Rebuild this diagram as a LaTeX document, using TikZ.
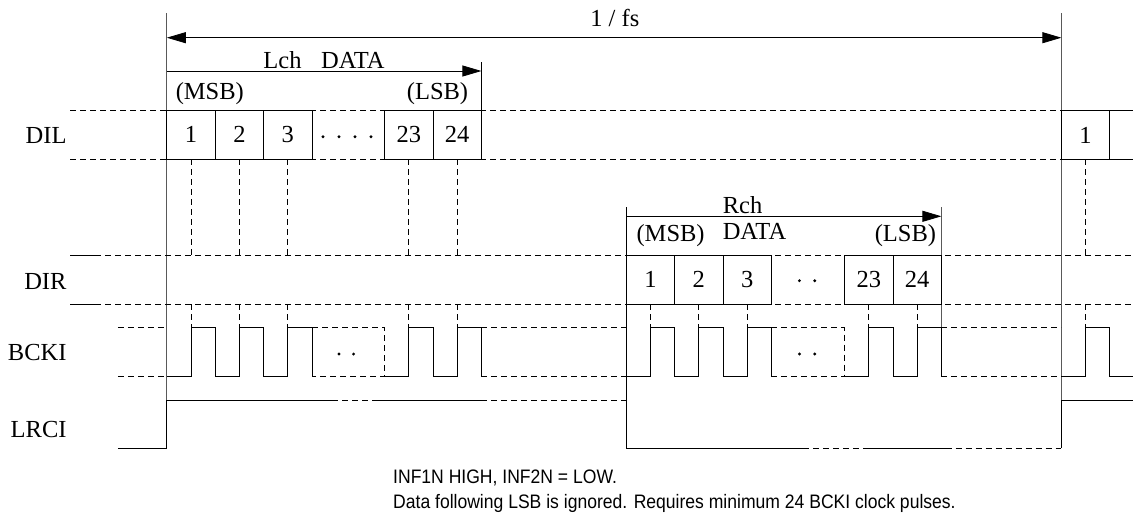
\documentclass[tikz,border=0pt]{standalone}
\usepackage{fontspec}
\usepackage{graphicx}
\setmainfont{Liberation Serif}
\newfontfamily\notefont{Liberation Sans}
\usetikzlibrary{arrows.meta}

\begin{document}
\begin{tikzpicture}[x=1pt,y=-1pt,
        sig/.style={line width=0.9pt},
        grid/.style={line width=0.8pt, dash pattern=on 6pt off 4pt},
        frame/.style={line width=0.9pt, black!65},
        span/.style={line width=0.8pt, -{Triangle[length=19pt,width=11pt]}},
        both span/.style={line width=0.8pt, {Triangle[length=19pt,width=11pt]}-{Triangle[length=19pt,width=11pt]}},
        lbl/.style={font=\fontsize{24.5}{28}\selectfont, inner sep=0pt},
        note/.style={anchor=west, inner sep=0pt, font=\notefont\fontsize{19.5}{22}\selectfont}]
    \useasboundingbox (0,0) rectangle (1133,520);

    % labels
    \node[lbl, anchor=east] (dil) at (66.7,135) {DIL};
    \node[lbl, anchor=east] (dir) at (66.7,281) {DIR};
    \node[lbl, anchor=east] (bcki) at (66.7,353) {BCKI};
    \node[lbl, anchor=east] (lrci) at (66.7,430) {LRCI};

    % frame lines
    \draw[frame] (166.8,13.3) -- (166.8,448);
    \draw[frame] (1061.4,13.3) -- (1061.4,448);
    \draw[sig] (626.2,207.3) -- (626.2,448);
    \draw[sig] (481.4,62) -- (481.4,110.7);
    \draw[frame] (941.4,207.3) -- (941.4,327.7);

    \coordinate (fsL) at (166.8,37.7);
    \coordinate (fsR) at (1061.4,37.7);
    \coordinate (lchL) at (166.8,71);
    \coordinate (lchR) at (481.4,71);
    \coordinate (rchL) at (626.2,216.3);
    \coordinate (rchR) at (941.4,216.3);
    \draw[both span] (fsL) -- (fsR);
    \draw[span] (lchL) -- (lchR);
    \draw[span] (rchL) -- (rchR);
    \node[lbl] (fs) at (614.8,18.3) {1 / fs};
    \node[lbl] (lch) at (324,60) {Lch\hspace{0.8em}DATA};
    \node[lbl, anchor=west] (rch) at (722.6,205) {Rch};
    \node[lbl, anchor=west] (rdata) at (722.6,231.7) {DATA};
    \node[lbl] (lmsb) at (209.8,93.3) {(MSB)};
    \node[lbl] (llsb) at (437.5,93.3) {(LSB)};
    \node[lbl] (rmsb) at (670.6,236) {(MSB)};
    \node[lbl] (rlsb) at (905.4,236) {(LSB)};

    % data rows
    \draw[grid] (70,110.7) -- (1061.4,110.7);
    \draw[grid] (70,159) -- (1061.4,159);
    \draw[sig] (70,255.7) -- (95,255.7);
    \draw[sig] (70,304) -- (95,304);
    \draw[grid] (95,255.7) -- (1133,255.7);
    \draw[grid] (95,304) -- (1133,304);
    \foreach \x/\n in {166.8/1, 215.2/2, 263.6/3, 384.6/23, 433/24}{
        \draw[sig] (\x,110.7) rectangle ++(48.4,48.3) node[lbl, midway] (l\n) {\n};
    }
    \foreach \x/\n in {626.2/1, 674.6/2, 723/3, 844.6/23, 893/24}{
        \draw[sig] (\x,255.7) rectangle ++(48.4,48.3) node[lbl, midway] (r\n) {\n};
    }
    \draw[sig] (1133,110.7) -- (1061.4,110.7) -- (1061.4,159) -- (1133,159);
    \draw[sig] (1109.8,110.7) -- (1109.8,159);
    \node[lbl] (n1) at (1085.6,135) {1};

    % sampling marks
    \foreach \x in {191,239.4,287.8,408.8,457.2,1085.6}{
        \draw[grid, line width=0.7pt] (\x,159) -- (\x,255.7);
        \draw[grid, line width=0.7pt] (\x,304) -- (\x,327.7);
    }
    \foreach \x in {650.4,698.8,747.2,868.8,917.2}
        \draw[grid, line width=0.7pt] (\x,304) -- (\x,327.7);

    % BCKI
    \draw[grid] (117.9,327.7) -- (166.8,327.7);
    \draw[grid] (117.9,376.5) -- (166.8,376.5);
    \foreach \x in {191,239.4,287.8,408.8,457.2,650.4,698.8,747.2,868.8,917.2,1085.6}
        \draw[sig] (\x-24.2,376.5) -| (\x,327.7) -| (\x+24.2,376.5);
    \draw[sig] (1109.8,376.5) -- (1133,376.5);
    \draw[grid] (312,327.7) -- (384.6,327.7) -- (384.6,376.5) -- (312,376.5);
    \draw[grid] (771.4,327.7) -- (844.6,327.7) -- (844.6,376.5) -- (771.4,376.5);
    \draw[grid] (481.4,327.7) -- (626.2,327.7);
    \draw[grid] (481.4,376.5) -- (626.2,376.5);
    \draw[grid] (941.4,327.7) -- (1061.4,327.7);
    \draw[grid] (941.4,376.5) -- (1061.4,376.5);

    % dots
    \foreach \x/\y in {323/136.7, 339/136.7, 355/136.7, 371/136.7, 799.4/280.7, 814.7/280.7,
                       339/354, 353.6/354, 799.4/354, 814.7/354}
        \fill (\x,\y) circle[radius=1.6pt];

    % LRCI
    \draw[sig] (117.9,448) -- (166.8,448) -- (166.8,400.7) -- (332,400.7);
    \draw[grid] (332,400.7) -- (377,400.7);
    \draw[sig] (377,400.7) -- (481.4,400.7);
    \draw[grid] (481.4,400.7) -- (626.2,400.7);
    \draw[sig] (626.2,448) -- (803,448);
    \draw[grid] (803,448) -- (863,448);
    \draw[sig] (863,448) -- (945.6,448);
    \draw[grid] (945.6,448) -- (1061.4,448);
    \draw[sig] (1061.4,448) -- (1061.4,400.7) -- (1133,400.7);

    % notes
    \node[note] (note1) at (393,478) {\scalebox{0.9}[1]{INF1N HIGH, INF2N = LOW.}};
    \node[note] (note2) at (393,503) {\scalebox{0.9}[1]{Data following LSB is ignored. Requires minimum 24 BCKI clock pulses.}};
\end{tikzpicture}
\end{document}
